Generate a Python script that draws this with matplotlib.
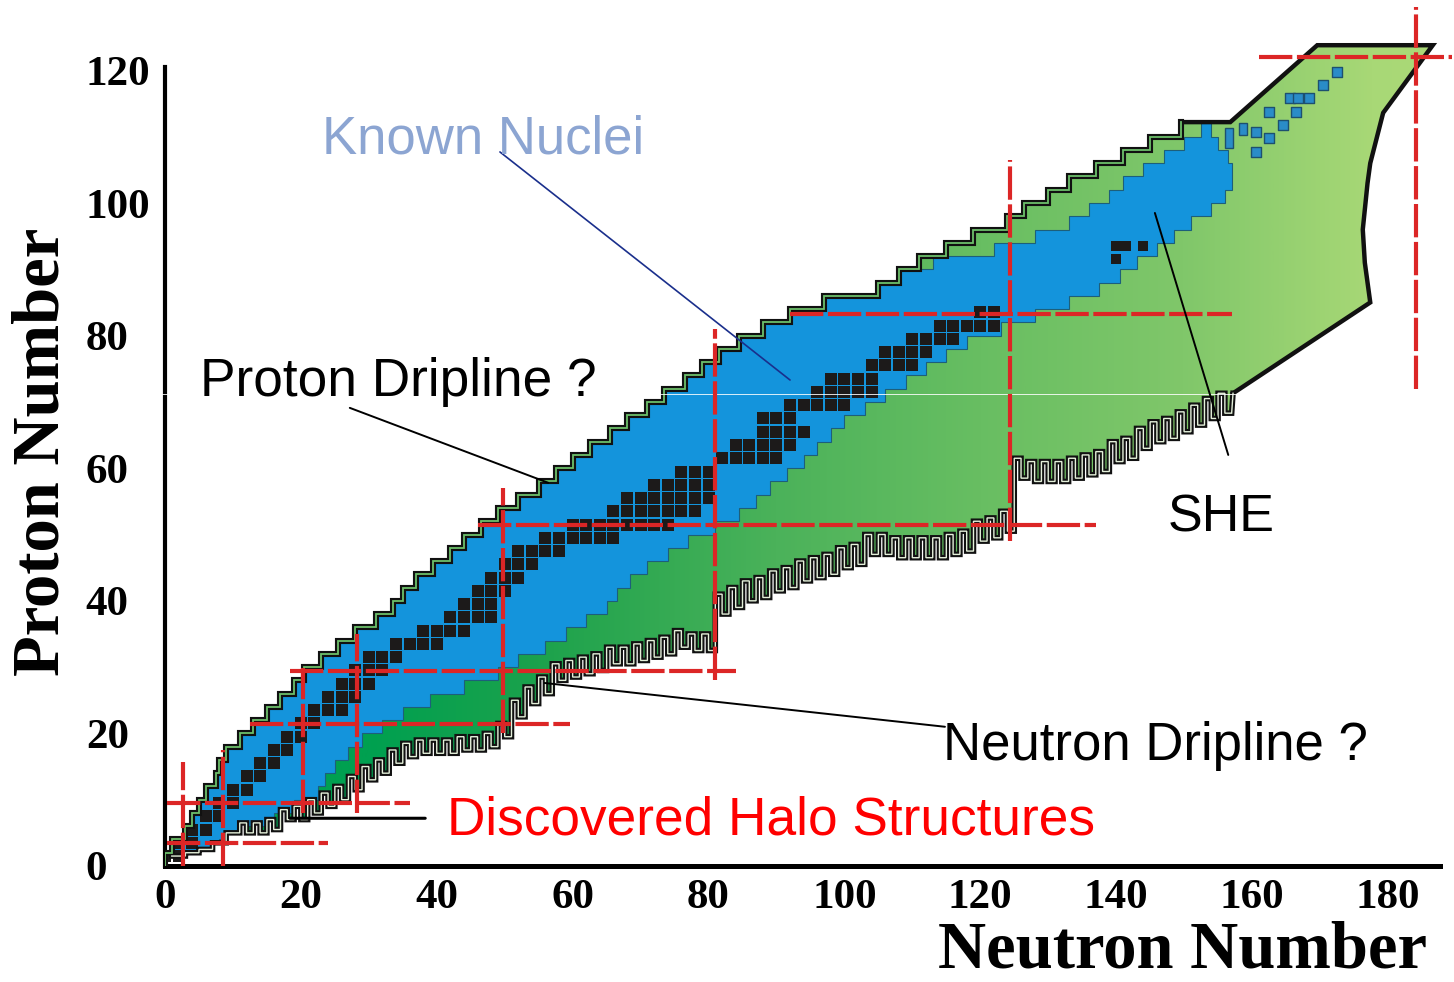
import numpy as np
import matplotlib
matplotlib.use('Agg')
import matplotlib.pyplot as plt
from matplotlib.patches import Polygon
from matplotlib.colors import LinearSegmentedColormap

# ------------------------------------------------------------------ data
# 2-unit proton-number bands (lower edge) and the top of the last band
BAND_Z = np.arange(0, 112, 2)
BAND_TOP = 112.2

# proton dripline: first neutron number of each band
PDRIP_N = [0, 1, 3, 4, 5, 6, 7.5, 8, 9, 11, 13, 15, 17, 19, 20.5, 23, 25.5, 28, 31, 33.5,
           35, 37, 39.5, 42, 44, 46.5, 49, 52, 55, 57.5, 60, 62.5, 65.5, 68, 71, 73.5, 76.5,
           79, 81.5, 84.5, 88, 92, 97, 105, 108, 111, 115, 119, 124, 126.5, 130, 133, 137,
           141, 145, 149.5]
# known nuclei (blue): left and right neutron number of each band
BLUE_L = [0, 1, 3, 4, 5, 6, 7.5, 8, 9, 11, 13, 15, 17, 19, 20.5, 23, 25.5, 28, 31, 33.5,
          35, 37, 39.5, 42, 44, 46.5, 49, 52, 55, 57.5, 60, 62.5, 65.5, 68, 71, 73.5, 76.5,
          79, 81.5, 84.5, 88, 92, 97, 105, 108, 113, 122, 128, 133, 136, 139, 141, 144,
          147, 150, 152.5]
BLUE_R = [5, 8, 12, 16, 19, 22.5, 23.5, 25, 27, 29, 32, 35, 39, 44, 49, 52, 56, 59, 62, 65,
          66.5, 68.5, 71, 74, 77, 81, 84.5, 87, 89, 91.5, 94, 96, 98, 100, 103, 106, 109, 112,
          115, 118, 123, 128, 133, 137.5, 140.5, 143, 146, 148.5, 151, 154, 156, 157, 157,
          156.5, 155, 154]

# neutron dripline (comb): neutron number and proton number of the comb top
NDRIP_N = np.arange(1, 157, 2)
NDRIP_Z = [1.5, 2.0, 2.5, 3.5, 5.0, 6.5, 6.5, 7.0, 8.5, 9.0, 10.0, 11.0, 12.0, 13.5, 15.0,
           16.0, 17.5, 18.5, 19.0, 19.0, 19.0, 19.5, 19.5, 20.0, 21.5, 25.0, 27.0, 28.5, 30.5,
           31.0, 31.5, 32.0, 33.0, 33.0, 33.5, 34.0, 34.5, 35.5, 35.0, 35.0, 41.0, 42.0, 43.0,
           43.5, 44.5, 45.0, 46.0, 46.5, 47.0, 48.0, 48.5, 50.0, 50.0, 49.5, 49.5, 49.5, 49.5,
           50.0, 50.5, 52.0, 52.5, 53.5, 61.5, 61.0, 61.0, 61.0, 61.5, 62.0, 62.5, 64.0, 64.5,
           66.0, 67.0, 67.5, 68.5, 69.5, 70.5, 71.3]
TOOTH_EDGES = [10, 18, 50, 80]
TOOTH_DEPTH = [0.0, 1.5, 2.0, 2.5, 3.0]

# superheavy-element region outline
SHE_EDGE_N = [156.8, 169.6, 186.6, 179.3, 177.4, 177.0, 176.3, 176.6, 177.4, 157.2]
SHE_EDGE_Z = [112.2, 123.8, 123.8, 113.6, 106.0, 103.0, 96.0, 91.0, 85.0, 71.3]

# stable nuclei rows (black squares)
STABLE_Z = [1.5, 3.5, 5.5, 7.5, 9.5, 11.5, 13.5, 15.5, 17.5, 19.5, 21.5, 23.5, 25.5, 27.5,
            29.5, 31.5, 33.5, 35.5, 37.5, 39.5, 41.5, 43.5, 45.5, 47.5, 49.5, 51.5, 53.5,
            55.5, 57.5, 59.5, 61.5, 63.5, 65.5, 67.5, 69.5, 71.5, 73.5, 75.5, 77.5, 79.5,
            81.5, 83.5]
STABLE_N0 = [0, 2, 4, 6, 8, 10, 12, 14, 16, 18, 20, 22, 24, 26, 28, 30, 34, 38, 42, 44, 46,
             48, 50, 52, 56, 60, 66, 68, 72, 76, 82, 84, 88, 88, 92, 96, 98, 104, 106, 110,
             114, 120]
STABLE_N1 = [2, 4, 6, 8, 10, 12, 14, 16, 18, 20, 22, 26, 28, 30, 32, 34, 40, 44, 48, 48, 50,
             52, 54, 58, 66, 74, 78, 80, 80, 80, 90, 92, 94, 92, 100, 104, 104, 110, 112, 116,
             122, 122]
ACT_N = [140.0, 141.5, 144.0, 140.0]
ACT_Z = [93.5, 93.5, 93.5, 91.6]

# known superheavy nuclei (blue squares and bars)
SHE_SQ_N = [172.5, 170.4, 165.6, 166.8, 168.4, 162.5, 166.5, 164.6, 160.6, 162.5, 160.6]
SHE_SQ_Z = [119.8, 117.8, 115.8, 115.8, 115.8, 113.7, 113.7, 111.8, 110.7, 109.8, 107.7]
SHE_BAR_N = [156.6, 158.7]
SHE_BAR_Z0 = [108.3, 110.3]
SHE_BAR_Z1 = [111.3, 112.0]

# magic-number lines
MAGIC_H_Z = [3.4, 9.5, 21.4, 29.4, 51.4, 83.2, 122.0]
MAGIC_H_N0 = [0.3, 0.3, 12.5, 18.4, 46.0, 92.0, 161.0]
MAGIC_H_N1 = [24.0, 36.0, 59.6, 84.0, 137.0, 157.0, 189.5]
MAGIC_V_N = [2.6, 8.5, 20.3, 28.3, 49.7, 81.0, 124.4, 184.2]
MAGIC_V_Z0 = [0.0, 0.0, 8.0, 8.0, 20.0, 28.0, 49.0, 72.0]
MAGIC_V_Z1 = [15.7, 17.5, 29.9, 35.0, 57.0, 81.0, 106.5, 129.5]

X_TICKS = list(range(0, 181, 20))
Y_TICKS = list(range(0, 121, 20))

# ------------------------------------------------------------------ figure
fig = plt.figure(figsize=(14.54, 9.82), dpi=100)
ax = fig.add_axes([165 / 1454, 116 / 982, 189.5 * 6.794 / 1454, 130 * 6.63 / 982])

edges = list(BAND_Z) + [BAND_TOP]

# proton dripline staircase
stair = []
for i, n in enumerate(PDRIP_N):
    stair += [(n, edges[i]), (n, edges[i + 1])]

# neutron dripline comb
depth = [TOOTH_DEPTH[int(np.searchsorted(TOOTH_EDGES, n))] for n in NDRIP_N]
comb = [(0.0, NDRIP_Z[0])]
for n, z, d in zip(NDRIP_N, NDRIP_Z, depth):
    comb += [(n, z), (n + 1, z), (n + 1, z - d), (n + 2, z - d)]
comb.append((SHE_EDGE_N[-1], SHE_EDGE_Z[-1]))

she = [(stair[-1][0], BAND_TOP)] + list(zip(SHE_EDGE_N, SHE_EDGE_Z))
green_verts = stair + she[1:] + comb[::-1]
green_patch = Polygon(green_verts, closed=True, fc='none', ec='none', transform=ax.transData)
ax.add_patch(green_patch)

cmap = LinearSegmentedColormap.from_list('g', [
    (0.0, '#00a050'), (30 / 190, '#00a050'), (55 / 190, '#1ca24c'), (90 / 190, '#4bb25a'),
    (120 / 190, '#68be62'), (150 / 190, '#80c76a'), (178 / 190, '#a8d876'), (1.0, '#acd978')])
grad = np.linspace(0, 1, 512).reshape(1, -1)
im = ax.imshow(grad, extent=(0, 190, 0, 130), origin='lower', aspect='auto', cmap=cmap,
               zorder=1, interpolation='bilinear')
im.set_clip_path(green_patch)

# known nuclei (blue)
left = []
for i, n in enumerate(BLUE_L):
    left += [(n, edges[i]), (n, edges[i + 1])]
right = []
for i, n in enumerate(BLUE_R):
    right += [(n, edges[i]), (n, edges[i + 1])]
blue = Polygon(left + right[::-1], closed=True, fc='#1494dc', ec='#1d5f7a', lw=0.8, zorder=2)
ax.add_patch(blue)
blue.set_clip_path(green_patch)

# stable nuclei
sn, sz = [], []
for z, n0, n1 in zip(STABLE_Z, STABLE_N0, STABLE_N1):
    for n in np.arange(n0, n1 + 0.1, 2):
        sn.append(n)
        sz.append(z)
ax.scatter(sn, sz, marker='s', s=66, color='#1c1a1a', linewidths=0, zorder=3)
ax.scatter(ACT_N, ACT_Z, marker='s', s=60, color='#1c1a1a', linewidths=0, zorder=3)

# known superheavy nuclei
ax.scatter(SHE_SQ_N, SHE_SQ_Z, marker='s', s=46, color='#2a8cc8', edgecolors='#1d5070',
           linewidths=1.0, zorder=3)
ax.bar(SHE_BAR_N, np.array(SHE_BAR_Z1) - np.array(SHE_BAR_Z0), bottom=SHE_BAR_Z0, width=1.2,
       color='#2a8cc8', edgecolor='#1d5070', linewidth=1.0, zorder=3)

# outlines
sx, sy = zip(*stair)
ax.plot(sx, sy, color='#111111', lw=4.4, solid_joinstyle='miter', zorder=4)
ax.plot(sx, sy, color='#6cc06a', lw=1.3, solid_joinstyle='miter', zorder=4.1)
hx, hy = zip(*she)
ax.plot(hx, hy, color='#111111', lw=3.2, solid_joinstyle='miter', zorder=4)
cx, cy = zip(*comb[1:])
ax.plot(cx, cy, color='#111111', lw=4.0, solid_joinstyle='miter', zorder=4)
ax.plot(cx, cy, color='#e4f0da', lw=1.0, solid_joinstyle='miter', zorder=4.1)

# thin light scan line of the original picture
ax.plot([-1, 157.5], [71.2, 71.2], color='white', lw=0.7, alpha=0.85, zorder=4.8, clip_on=False)

# magic lines
red = '#dc2626'
ax.hlines(MAGIC_H_Z, MAGIC_H_N0, MAGIC_H_N1, colors=red, lw=3.0, linestyles=[(0, (8, 1.1))],
          zorder=6, clip_on=False)
ax.vlines(MAGIC_V_N, MAGIC_V_Z0, MAGIC_V_Z1, colors=red, lw=3.0, linestyles=[(0, (8, 1.1))],
          zorder=6, clip_on=False)

# annotations
sans = 'Liberation Sans'
lead = dict(arrowstyle='-', shrinkA=0, shrinkB=0)
ax.annotate('', xy=(92.0, 73.3), xytext=(49.3, 107.7),
            arrowprops=dict(lead, color='#1a2f8c', lw=1.2), zorder=7)
ax.annotate('', xy=(56.4, 57.8), xytext=(27.2, 69.1),
            arrowprops=dict(lead, color='black', lw=1.4), zorder=7)
ax.annotate('', xy=(156.5, 62.0), xytext=(145.7, 98.5),
            arrowprops=dict(lead, color='black', lw=1.4), zorder=7)
ax.annotate('', xy=(114.8, 21.0), xytext=(55.9, 27.6),
            arrowprops=dict(lead, color='black', lw=1.4), zorder=7)
ax.annotate('', xy=(38.3, 7.2), xytext=(18.4, 7.2),
            arrowprops=dict(lead, color='black', lw=2.2), zorder=7)

ax.text(23.1, 107.5, 'Known Nuclei', family=sans, fontsize=38, color='#8ca5d2',
        va='baseline', ha='left', zorder=8)
ax.text(5.15, 70.9, 'Proton Dripline ?', family=sans, fontsize=38.3, color='black',
        va='baseline', ha='left', zorder=8)
ax.text(147.6, 50.5, 'SHE', family=sans, fontsize=37.5, color='black',
        va='baseline', ha='left', zorder=8)
ax.text(114.5, 16.0, 'Neutron Dripline ?', family=sans, fontsize=38, color='black',
        va='baseline', ha='left', zorder=8)
ax.text(41.5, 4.7, 'Discovered Halo Structures', family=sans, fontsize=38.3, color='#ff0000',
        va='baseline', ha='left', zorder=8)

# axes styling
ax.set_xlim(0, 189.5)
ax.set_ylim(0, 130)
for s in ('top', 'right'):
    ax.spines[s].set_visible(False)
ax.spines['left'].set_linewidth(3.0)
ax.spines['left'].set_bounds(0, 120.5)
ax.spines['bottom'].set_linewidth(3.6)
ax.spines['bottom'].set_bounds(0, 187.7)
ax.spines['left'].set_capstyle('projecting')
ax.spines['bottom'].set_capstyle('projecting')
ax.set_xticks(X_TICKS)
ax.set_yticks(Y_TICKS)
ax.tick_params(length=0)
ax.tick_params(axis='x', pad=9)
ax.tick_params(axis='y', pad=57)
for lab in ax.get_xticklabels() + ax.get_yticklabels():
    lab.set_family('Liberation Serif')
    lab.set_weight('bold')
    lab.set_fontsize(31)
for lab in ax.get_yticklabels():
    lab.set_horizontalalignment('left')

fig.text(42 / 1454, 1 - 452 / 982, 'Proton Number', rotation=90, ha='center', va='center',
         family='Liberation Serif', weight='bold', fontsize=48)
fig.text(1427 / 1454, 0.0, 'Neutron Number', ha='right', va='bottom',
         family='Liberation Serif', weight='bold', fontsize=48)

fig.savefig('out.png', dpi=100)
